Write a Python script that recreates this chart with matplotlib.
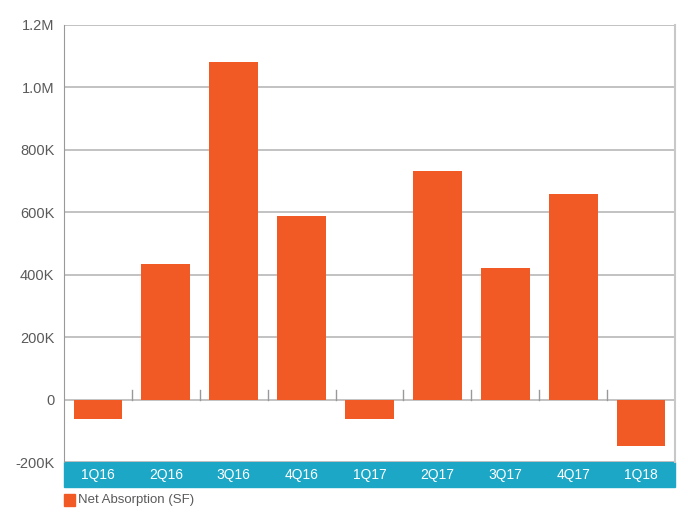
import matplotlib
matplotlib.use("Agg")
import matplotlib.pyplot as plt
from matplotlib.patches import Rectangle
from matplotlib.ticker import FuncFormatter

categories = ["1Q16", "2Q16", "3Q16", "4Q16", "1Q17", "2Q17", "3Q17", "4Q17", "1Q18"]
net_absorption = [-62000, 433000, 1080000, 587000, -62000, 731000, 420000, 660000, -150000]
yticks = [-200000, 0, 200000, 400000, 600000, 800000, 1000000, 1200000]
series_name = "Net Absorption (SF)"

plt.rcParams['font.family'] = ['Liberation Sans', 'DejaVu Sans']
orange = "#F15A24"
teal = "#1DA7C6"
grid_c = "#B8B8B8"
text_c = "#5A5A5A"

fig = plt.figure(figsize=(6.88, 5.18), dpi=100)
ax = fig.add_axes([64/688, 56/518, 611/688, 437/518])

x = list(range(len(categories)))
ax.bar(x, net_absorption, width=0.72, color=orange, zorder=3)
ax.set_xlim(-0.5, len(categories) - 0.5)
ax.set_ylim(-200000, 1200000)
ax.set_yticks(yticks)

def fmt(v, pos):
    if v == 0:
        return "0"
    if abs(v) >= 1000000:
        return f"{v/1e6:.1f}M"
    return f"{int(v/1000)}K"

ax.yaxis.set_major_formatter(FuncFormatter(fmt))
ax.tick_params(axis='y', length=0, pad=7, labelsize=10.5, labelcolor=text_c)
ax.set_xticks([])
ax.grid(axis='y', color=grid_c, linewidth=1.2, zorder=0)
for s in ['top', 'bottom']:
    ax.spines[s].set_visible(False)
ax.spines['left'].set_color("#999999")
ax.spines['right'].set_color("#C8C8C8")
ax.spines['right'].set_linewidth(1.5)

# category boundary ticks above zero line
for b in range(1, len(categories)):
    ax.plot([b - 0.5, b - 0.5], [0, 32000], color="#999999", lw=1, zorder=2)

# teal band with category labels
trans = ax.get_xaxis_transform()
ax.add_patch(Rectangle((-0.5, -0.058), len(categories), 0.058, transform=trans,
                       color=teal, clip_on=False, zorder=1))
for i, c in enumerate(categories):
    ax.text(i, -0.029, c, transform=trans, ha='center', va='center',
            color='white', fontsize=10, clip_on=False)

# legend
fig.patches.append(Rectangle((64/688, 1 - 506/518), 11/688, 12/518,
                             transform=fig.transFigure, color=orange, figure=fig))
fig.text(78/688, 1 - 500/518, series_name, ha='left', va='center',
         fontsize=9.5, color=text_c)

fig.savefig("out.png", dpi=100)
